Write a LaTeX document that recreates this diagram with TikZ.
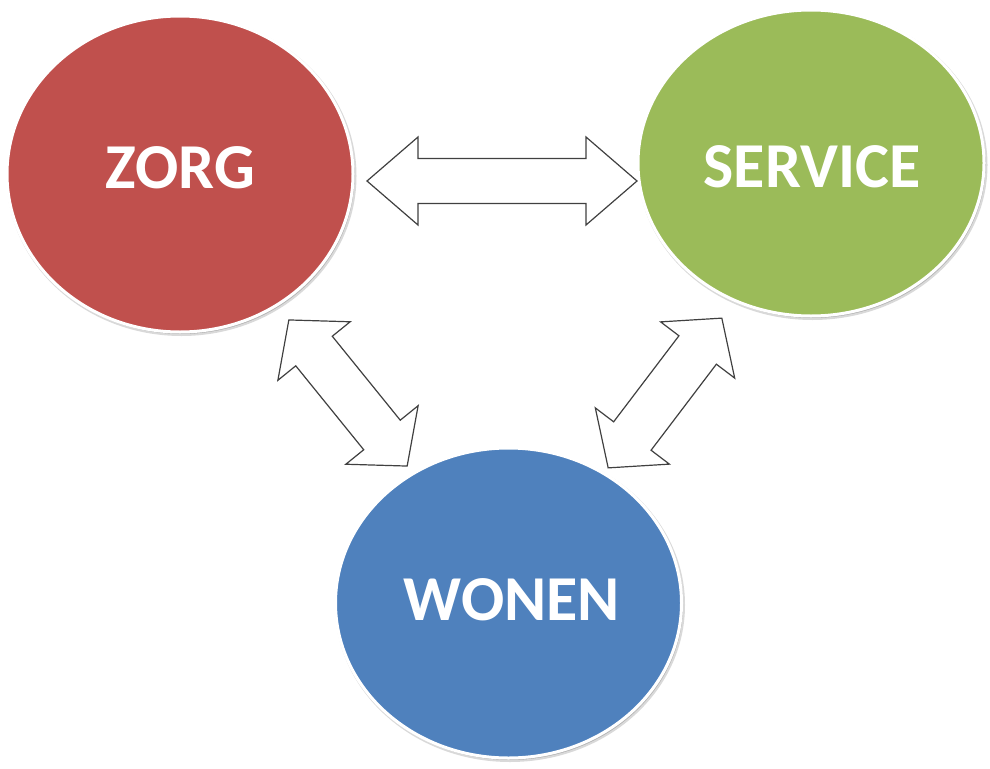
\documentclass[tikz,border=0pt]{standalone}
\usepackage{fontspec}
\setmainfont{Carlito}
\usetikzlibrary{shapes.geometric}
\definecolor{zred}{HTML}{C0504D}
\definecolor{sgreen}{HTML}{9BBB59}
\definecolor{wblue}{HTML}{4F81BD}
\definecolor{aline}{HTML}{404040}
\tikzset{
  ell/.style={ellipse, inner sep=0pt, draw=white, line width=3pt},
  ellshadow/.style={ellipse, inner sep=0pt, fill=black!30, draw=black!15, line width=2pt},
  lbl/.style={text=white, font=\fontsize{64}{64}\selectfont\bfseries, inner sep=0pt},
  barrow/.style={draw=aline, fill=white, line width=1.2pt, line join=miter}
}
% center x, center y, angle, half length, head length, head half width, shaft half width
\newcommand\blockarrow[7]{%
  \begin{scope}[shift={(#1,#2)}, rotate=#3]
    \draw[barrow] (-#4,0) -- (-#4+#5,#6) -- (-#4+#5,#7) -- (#4-#5,#7) -- (#4-#5,#6)
      -- (#4,0) -- (#4-#5,-#6) -- (#4-#5,-#7) -- (-#4+#5,-#7) -- (-#4+#5,-#6) -- cycle;
  \end{scope}}
\begin{document}
\begin{tikzpicture}[x=1pt, y=-1pt]
\useasboundingbox (0,0) rectangle (990,768);
% shadows
\node[ellshadow, minimum width=348pt, minimum height=318pt] (zorgs) at (181.5,176) {};
\node[ellshadow, minimum width=348pt, minimum height=308pt] (services) at (812.5,165) {};
\node[ellshadow, minimum width=348pt, minimum height=312pt] (wonens) at (510,605) {};
% circles
\node[ell, fill=zred, minimum width=346pt, minimum height=316pt] (zorg) at (180,174) {};
\node[ell, fill=sgreen, minimum width=346pt, minimum height=306pt] (service) at (811,163) {};
\node[ell, fill=wblue, minimum width=346pt, minimum height=310pt] (wonen) at (508.5,603) {};
% labels
\node[lbl] (zorgt) at (180.5,168) {ZORG};
\node[lbl] (servicet) at (812,167) {SERVICE};
\node[lbl] (wonent) at (512,600) {WONEN};
% arrows
\blockarrow{502}{181}{0}{135}{51}{44}{22.5}
\blockarrow{348}{393}{-51}{94}{40}{46.5}{23.5}
\blockarrow{665}{393}{52.8}{94}{40}{46.5}{23.5}
\end{tikzpicture}
\end{document}
